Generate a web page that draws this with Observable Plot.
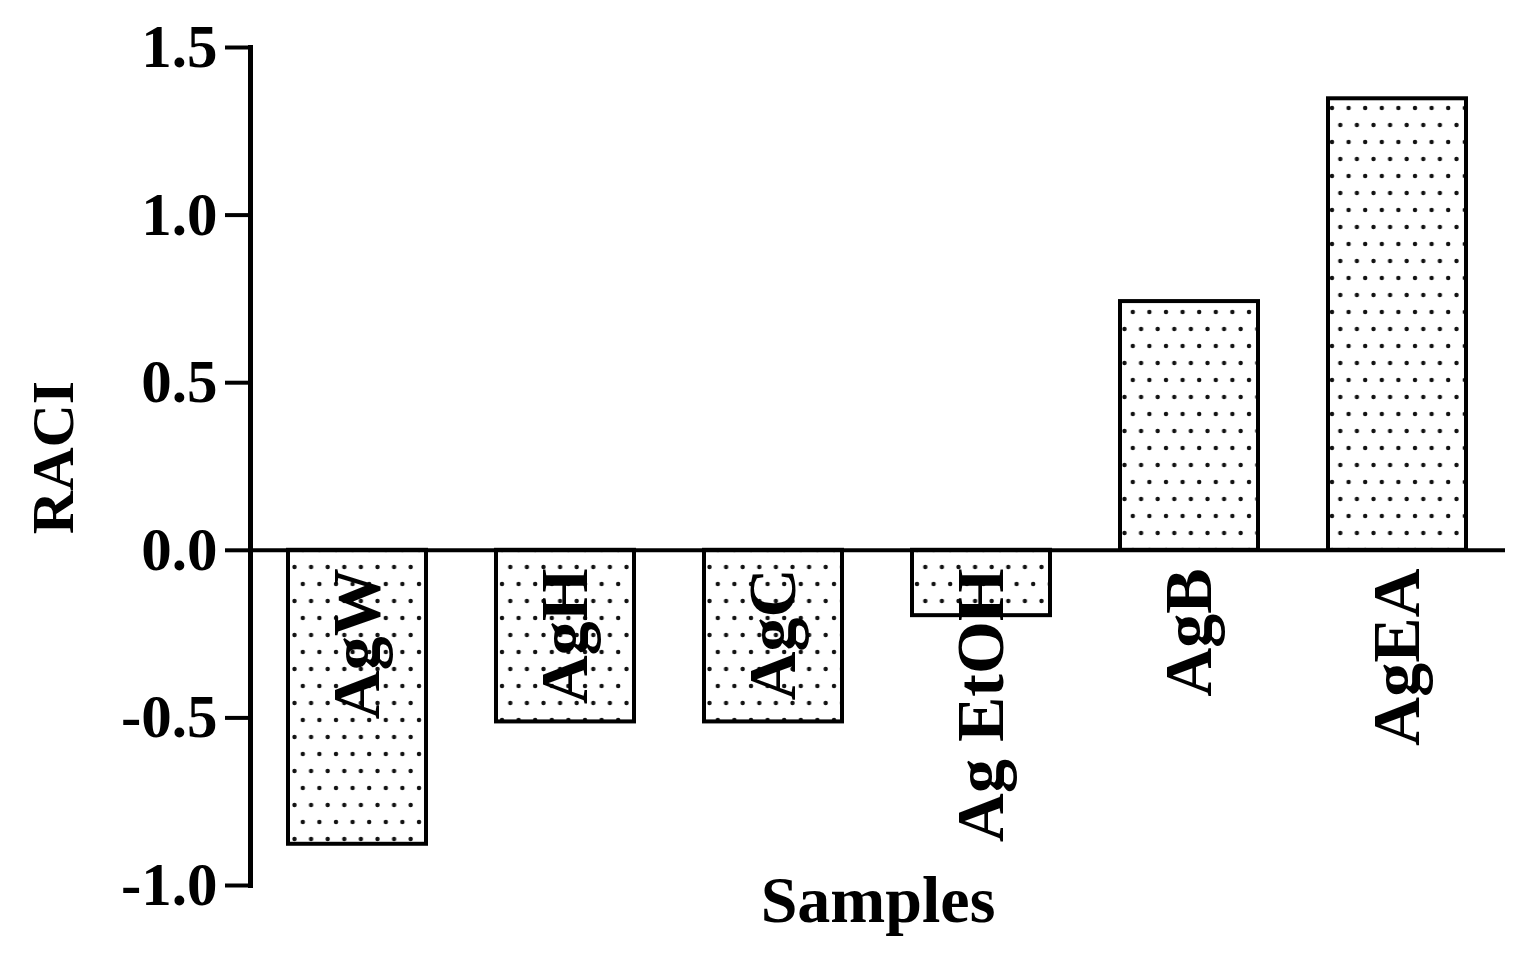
<!DOCTYPE html>
<html>
<head>
<meta charset="utf-8">
<script src="https://cdn.jsdelivr.net/npm/d3@7"></script>
<script src="https://cdn.jsdelivr.net/npm/@observablehq/plot@0.6"></script>
<style>
  html, body { margin: 0; padding: 0; background: #fff; }
</style>
</head>
<body>
<div id="chart"></div>
<script>
const categories = ["AgW", "AgH", "AgC", "Ag EtOH", "AgB", "AgEA"];
const raci = [-0.877, -0.512, -0.512, -0.195, 0.742, 1.347];
const yTicks = [-1.0, -0.5, 0.0, 0.5, 1.0, 1.5];
const xTitle = "Samples";
const yTitle = "RACI";

const data = categories.map((c, i) => ({sample: c, value: raci[i]}));
const serif = "'Liberation Serif', 'Times New Roman', serif";

const svg = Plot.plot({
  width: 1530,
  height: 960,
  marginLeft: 250,
  marginRight: 25,
  marginTop: 47,
  marginBottom: 75,
  style: {fontFamily: serif, color: "#000", background: "#fff"},
  x: {domain: categories, axis: null, paddingInner: 0.336, paddingOuter: 0.18},
  y: {domain: [-1, 1.5]},
  marks: [
    Plot.barY(data, {x: "sample", y: "value", fill: "url(#dots)", stroke: "#000", strokeWidth: 4}),
    Plot.ruleY([0], {stroke: "#000", strokeWidth: 4}),
    Plot.frame({anchor: "left", stroke: "#000", strokeWidth: 5}),
    Plot.axisY({
      ticks: yTicks,
      tickFormat: d => d.toFixed(1),
      tickSize: 25,
      tickPadding: 8,
      strokeWidth: 4,
      fontSize: 61,
      fontWeight: "bold",
      label: null
    }),
    Plot.text(data, {
      x: "sample", y: () => 0, text: "sample",
      rotate: -90, textAnchor: "end", dy: 18,
      fontSize: 68, fontWeight: "bold", fontFamily: serif, fill: "#000"
    }),
    Plot.text([xTitle], {
      frameAnchor: "bottom", textAnchor: "middle", dy: 36,
      fontSize: 66, fontWeight: "bold", fontFamily: serif, fill: "#000"
    }),
    Plot.text([yTitle], {
      frameAnchor: "left", textAnchor: "middle", dx: -197, dy: -9, rotate: -90,
      fontSize: 60, fontWeight: "bold", fontFamily: serif, fill: "#000"
    })
  ]
});

const defs = d3.select(svg).insert("defs", ":first-child");
const pat = defs.append("pattern")
  .attr("id", "dots")
  .attr("patternUnits", "userSpaceOnUse")
  .attr("width", 16.6)
  .attr("height", 34);
pat.append("rect").attr("width", 16.6).attr("height", 34).attr("fill", "#fff");
pat.append("circle").attr("cx", 4).attr("cy", 6).attr("r", 2.2).attr("fill", "#111");
pat.append("circle").attr("cx", 12.3).attr("cy", 23).attr("r", 2.2).attr("fill", "#111");

document.getElementById("chart").appendChild(svg);
</script>
</body>
</html>
